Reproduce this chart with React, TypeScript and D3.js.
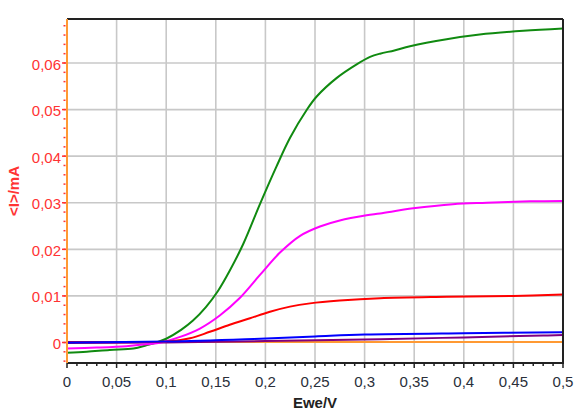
import React from "react";
import * as d3 from "d3";

const xTicks = [0, 0.05, 0.1, 0.15, 0.2, 0.25, 0.3, 0.35, 0.4, 0.45, 0.5];
const yTicks = [0, 0.01, 0.02, 0.03, 0.04, 0.05, 0.06];

const greenSeries: [number, number][] = [
  [0, -0.0022], [0.02, -0.002], [0.043, -0.0016], [0.067, -0.0013], [0.08, -0.0006],
  [0.09, 0], [0.1, 0.0008], [0.115, 0.0027], [0.127, 0.0047], [0.14, 0.0076],
  [0.152, 0.0110], [0.164, 0.0154], [0.178, 0.0213], [0.1945, 0.0297], [0.211, 0.0377],
  [0.225, 0.0440], [0.2416, 0.0499], [0.2517, 0.0528], [0.272, 0.0568],
  [0.292, 0.0597], [0.3055, 0.0613], [0.3155, 0.0620], [0.33, 0.0627], [0.3458, 0.0636], [0.3827, 0.0651],
  [0.416, 0.0661], [0.46, 0.0669], [0.5, 0.0674],
];
const magentaSeries: [number, number][] = [
  [0, -0.0013], [0.03, -0.0011], [0.06, -0.0008], [0.08, -0.0004], [0.095, 0],
  [0.114, 0.0012], [0.134, 0.003], [0.154, 0.0058], [0.1744, 0.0096], [0.1945, 0.0145],
  [0.2147, 0.0193], [0.235, 0.0229], [0.255, 0.0249], [0.275, 0.0262], [0.302, 0.0273],
  [0.3155, 0.0277], [0.349, 0.0288], [0.389, 0.0297], [0.423, 0.03], [0.4667, 0.0303],
  [0.5, 0.0304],
];
const redSeries: [number, number][] = [
  [0, 0.0001], [0.05, 0.0001], [0.1, 0.0002], [0.124, 0.0009], [0.144, 0.0023],
  [0.164, 0.0038], [0.1845, 0.0052], [0.2046, 0.0066], [0.2248, 0.0077], [0.245, 0.0084],
  [0.275, 0.009], [0.3155, 0.0095], [0.383, 0.0098], [0.45, 0.01], [0.5, 0.0103],
];
const blueSeries: [number, number][] = [
  [0, 0], [0.1, 0.0002], [0.18, 0.0007], [0.25, 0.0013], [0.3, 0.0017], [0.4, 0.002], [0.5, 0.0022],
];
const purpleSeries: [number, number][] = [
  [0, -0.0001], [0.1, 0], [0.2, 0.0003], [0.3155, 0.0007], [0.4, 0.0011], [0.48, 0.0015], [0.5, 0.0016],
];
const orangeSeries: [number, number][] = [
  [0, 0.0001], [0.5, 0.0001],
];

const seriesList = [
  { data: orangeSeries, color: "#ff9933" },
  { data: purpleSeries, color: "#800080" },
  { data: greenSeries, color: "#108a10" },
  { data: magentaSeries, color: "#ff00ff" },
  { data: redSeries, color: "#ff0000" },
  { data: blueSeries, color: "#0000ff" },
];

export default function App() {
  const W = 574, H = 419;
  const left = 67, right = 563, top = 19, bottom = 363;
  const x = d3.scaleLinear().domain([0, 0.5]).range([left, right]);
  const y = d3.scaleLinear().domain([0, 0.06]).range([342.5, 63]);
  const line = d3.line<[number, number]>().x(d => x(d[0])).y(d => y(d[1])).curve(d3.curveCatmullRom.alpha(0.5));
  const xMinor = d3.range(0, 0.5001, 0.01);
  const yMinor = d3.range(-0.004, 0.0695, 0.002);
  const fmt = (v: number) => String(+v.toFixed(3)).replace(".", ",");
  const font = "'Liberation Sans', Arial, sans-serif";
  return (
    <svg width={W} height={H} style={{ position: "absolute", left: 0, top: 0, background: "#fff" }}>
      {xTicks.filter(t => t > 0 && t < 0.5).map(t => (
        <line key={"gx" + t} x1={x(t)} x2={x(t)} y1={top} y2={bottom} stroke="#c8c8c8" strokeWidth={1.6} />
      ))}
      {yTicks.filter(t => t > 0).map(t => (
        <line key={"gy" + t} x1={left} x2={right} y1={y(t)} y2={y(t)} stroke="#c8c8c8" strokeWidth={1.6} />
      ))}
      <defs>
        <clipPath id="clip"><rect x={left} y={top} width={right - left} height={bottom - top} /></clipPath>
      </defs>
      <g clipPath="url(#clip)">
        {seriesList.map((s, i) => (
          <path key={i} d={line(s.data) || ""} fill="none" stroke={s.color} strokeWidth={2} />
        ))}
      </g>
      <line x1={left} x2={right} y1={top} y2={top} stroke="#222" strokeWidth={2} />
      <line x1={right} x2={right} y1={top} y2={bottom} stroke="#222" strokeWidth={2} />
      <line x1={left} x2={right + 1} y1={bottom} y2={bottom} stroke="#222" strokeWidth={2} />
      {xMinor.map((t, i) => (
        <line key={"xm" + i} x1={x(t)} x2={x(t)} y1={bottom} y2={bottom + (i % 5 === 0 ? 5 : 3)} stroke="#222" strokeWidth={1.5} />
      ))}
      {xTicks.map(t => (
        <text key={"xl" + t} x={x(t)} y={387} textAnchor="middle" fontFamily={font} fontSize={15} fill="#2a2f3a">{fmt(t)}</text>
      ))}
      <text x={315} y={408} textAnchor="middle" fontFamily={font} fontSize={15} fontWeight="bold" fill="#222">Ewe/V</text>
      {yMinor.map((t, i) => (
        <line key={"ym" + i} x1={63.5} x2={65.5} y1={y(t)} y2={y(t)} stroke="#ff3333" strokeWidth={1.5} />
      ))}
      {yTicks.map(t => (
        <line key={"yt" + t} x1={62} x2={67} y1={y(t)} y2={y(t)} stroke="#ff3333" strokeWidth={1.5} />
      ))}
      <line x1={left} x2={left} y1={top} y2={bottom} stroke="#ff9933" strokeWidth={2} />
      {yTicks.map(t => (
        <text key={"yl" + t} x={61} y={y(t) + 1} textAnchor="end" dominantBaseline="central" fontFamily={font} fontSize={15} fill="#ff3333">{fmt(t)}</text>
      ))}
      <text transform="translate(19,191) rotate(-90)" textAnchor="middle" fontFamily={font} fontSize={15} fontWeight="bold" fill="#ff3333">&lt;I&gt;/mA</text>
    </svg>
  );
}
